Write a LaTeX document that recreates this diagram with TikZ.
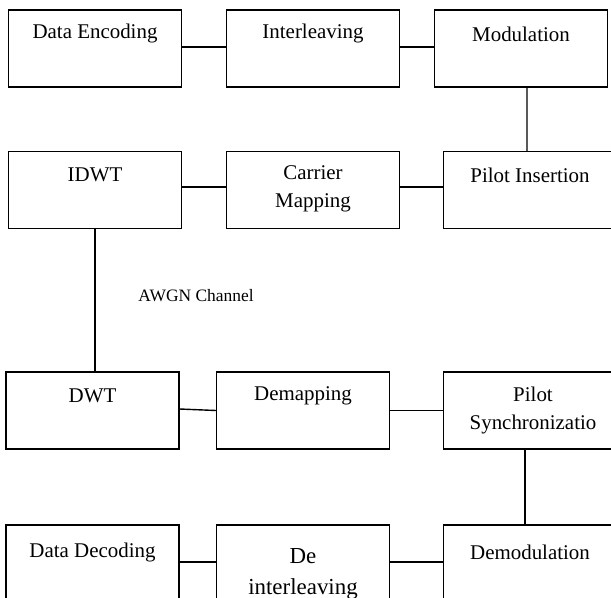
\documentclass[tikz,border=0pt]{standalone}
\usepackage{fontspec}
\setmainfont{Liberation Serif}
\begin{document}
\begin{tikzpicture}[x=1bp,y=-1bp,
  box/.style={draw=black, line width=1.4bp, rectangle, minimum width=173bp, minimum height=77bp, inner sep=0pt},
  lbl/.style={inner sep=0pt, align=center, font=\fontsize{21}{28}\selectfont},
  big/.style={inner sep=0pt, align=center, font=\fontsize{23}{32}\selectfont},
  small/.style={inner sep=0pt, font=\fontsize{17.5}{20}\selectfont},
  link/.style={line width=1.4bp}]
\useasboundingbox (0,0) rectangle (611,598);
\clip (0,0) rectangle (611,598);
% row 1
\node[box] (enc) at (95,48.5) {};
\node[box] (intl) at (313,48.5) {};
\node[box] (mod) at (521,48.5) {};
\node[lbl] at (95,34) {Data Encoding};
\node[lbl] at (313,34) {Interleaving};
\node[lbl] at (521,34) {Modulation};
% row 2
\node[box] (idwt) at (95,190) {};
\node[box] (cmap) at (313,190) {};
\node[box] (pins) at (530,190) {};
\node[lbl] at (95,175) {IDWT};
\node[lbl] at (313,189) {Carrier\\Mapping};
\node[lbl] at (530,175) {Pilot Insertion};
% AWGN
\node[small] (awgn) at (196,296) {AWGN Channel};
% row 3
\node[box] (dwt) at (92.5,410.5) {};
\node[box] (demap) at (303,410.5) {};
\node[box] (sync) at (530,410.5) {};
\node[lbl] at (92.5,396) {DWT};
\node[lbl] at (303,396) {Demapping};
\node[lbl] at (533,410.5) {Pilot\\Synchronizatio};
% row 4
\node[box] (dec) at (92.5,563.5) {};
\node[box] (deint) at (303,563.5) {};
\node[box] (demod) at (530,563.5) {};
\node[lbl] at (92.5,552) {Data Decoding};
\node[big] at (303,574) {De\\interleaving};
\node[lbl] at (530,552) {Demodulation};
% connectors
\draw[link] ([yshift=1.5pt]enc.east) -- ([yshift=1.5pt]intl.west);
\draw[link] ([yshift=1.5pt]intl.east) -- ([yshift=1.5pt]mod.west);
\draw[link] ([xshift=6pt]mod.south) -- ([xshift=-3pt]pins.north);
\draw[link] ([yshift=3pt]idwt.east) -- ([yshift=3pt]cmap.west);
\draw[link] ([yshift=3pt]cmap.east) -- ([yshift=3pt]pins.west);
\draw[link] (idwt.south) -- (idwt.south |- dwt.north);
\draw[link] ([yshift=1.5pt]dwt.east) -- (demap.west);
\draw[link] (demap.east) -- (sync.west);
\draw[link] ([xshift=-5pt]sync.south) -- ([xshift=-5pt]demod.north);
\draw[link] ([yshift=1.5pt]dec.east) -- ([yshift=1.5pt]deint.west);
\draw[link] ([yshift=1.5pt]deint.east) -- ([yshift=1.5pt]demod.west);
\end{tikzpicture}
\end{document}
